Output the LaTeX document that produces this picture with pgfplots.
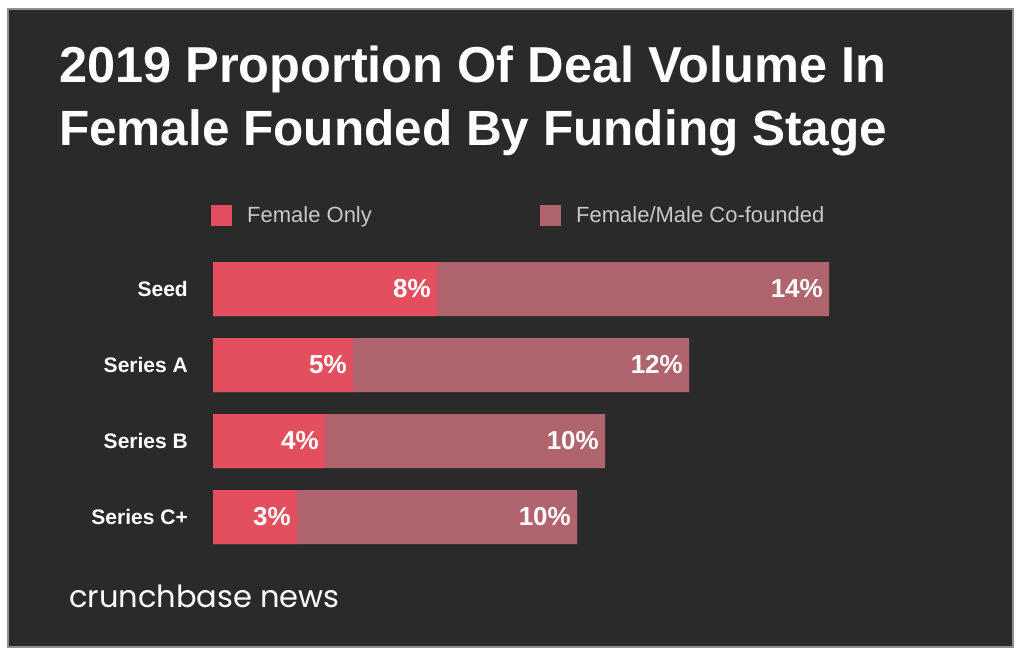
\documentclass[border=0pt]{standalone}
\usepackage{pgfplots}
\pgfplotsset{compat=1.18}
\usepackage{fontspec}
\setmainfont{Liberation Sans}
\newfontfamily\logofont{Poppins}
\definecolor{bg}{HTML}{2A2A2A}
\definecolor{frame}{HTML}{8A9097}
\definecolor{fonly}{HTML}{E34F5F}
\definecolor{fmale}{HTML}{B0646E}
\definecolor{legtxt}{HTML}{C8C8C8}
\begin{document}
\begin{tikzpicture}[x=1pt,y=1pt]
\fill[white] (0,0) rectangle (1024,662);
\draw[frame, line width=2.5pt, fill=bg] (8,653) rectangle (1013,15);
\node[anchor=base west, inner sep=0pt, text=white, font=\fontsize{50.5}{60}\selectfont\bfseries] at (59,579) {2019 Proportion Of Deal Volume In};
\node[anchor=base west, inner sep=0pt, text=white, font=\fontsize{49.5}{60}\selectfont\bfseries] at (59,516) {Female Founded By Funding Stage};
\node[anchor=base west, inner sep=0pt, text=white, font=\fontsize{30.5}{34}\logofont] at (69,55) {crunchbase news};
\begin{axis}[
  at={(213pt,107pt)}, anchor=south west,
  scale only axis, width=616pt, height=304pt,
  xbar, bar width=54pt, bar shift=0pt,
  xmin=0, xmax=22, ymin=-0.5, ymax=3.5,
  hide x axis,
  axis line style={draw=none},
  major tick length=0pt,
  ytick={0,1,2,3},
  yticklabels={Series C+, Series B, Series A, Seed},
  yticklabel style={font=\fontsize{21}{25}\selectfont\bfseries, text=white, anchor=east, inner sep=0pt, xshift=-25pt},
  clip=false,
  /pgf/number format/assume math mode=true,
  point meta=explicit,
  nodes near coords={\pgfmathprintnumber{\pgfplotspointmeta}\%},
  every node near coord/.append style={anchor=east, inner sep=0pt, xshift=-6pt, text=white, font=\fontsize{26}{30}\selectfont\bfseries},
  legend style={at={(-2/616,1+36/304)}, anchor=west, draw=none, fill=none, inner sep=0pt,
    legend columns=2, nodes={inner sep=0pt},
    font=\fontsize{22}{26}\selectfont, text=legtxt,
    /tikz/every odd column/.append style={column sep=15pt}},
  legend image code/.code={\fill[#1, draw=none] (0pt,-10.5pt) rectangle (21pt,10.5pt);},
]
\addlegendimage{fill=fonly}
\addlegendentry{\makebox[293pt][l]{Female Only}}
\addlegendimage{fill=fmale}
\addlegendentry{Female/Male Co-founded}
% Female/Male co-founded segment, drawn from the end of the female-only segment
% (x = female only + co-founded); label shows the co-founded share
\addplot[fill=fmale, draw=none, forget plot] coordinates {(13,0) [10] (14,1) [10] (17,2) [12] (22,3) [14]};
% Female only
\addplot[fill=fonly, draw=none, forget plot] coordinates {(3,0) [3] (4,1) [4] (5,2) [5] (8,3) [8]};
\end{axis}
\end{tikzpicture}
\end{document}
